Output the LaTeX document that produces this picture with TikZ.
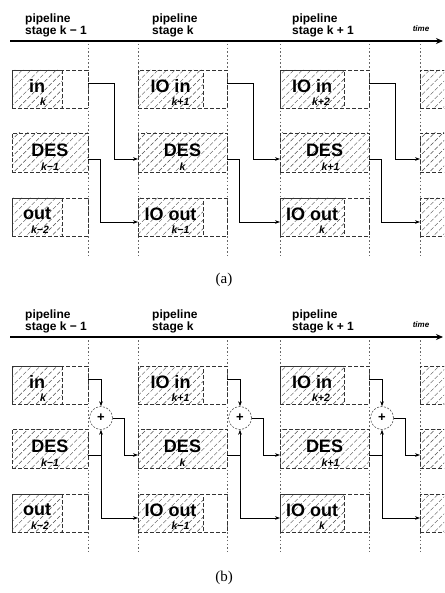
\documentclass[tikz,border=0pt]{standalone}
\usepackage{fontspec}
\setmainfont{Liberation Serif}
\newfontfamily\hsf{Liberation Sans}
\usetikzlibrary{patterns.meta,arrows.meta,calc}
\tikzset{
  slotbox/.style={draw=black!80, line width=0.6pt, dash pattern=on 4pt off 2pt, inner sep=0, outer sep=0, rectangle},
  hatchbox/.style={slotbox, pattern={Lines[angle=45,distance=6pt,line width=0.45pt]}, pattern color=black!70},
  stagel/.style={draw=black!60, line width=0.5pt, dash pattern=on 1.5pt off 2.2pt},
  conn/.style={line width=0.6pt, -{Stealth[length=5pt,width=3.6pt]}},
  lab/.style={font=\hsf\bfseries\fontsize{18}{18}\selectfont, inner sep=0},
  sublab/.style={font=\hsf\bfseries\itshape\fontsize{10.5}{10.5}\selectfont, inner sep=0},
  hdr/.style={font=\hsf\bfseries\fontsize{12}{12}\selectfont, inner sep=0, align=left, anchor=north west},
  timel/.style={font=\hsf\bfseries\itshape\fontsize{8}{8}\selectfont, inner sep=0},
  axisl/.style={line width=1.8pt, -{Stealth[length=7pt,width=6pt]}},
  sumnode/.style={circle, draw=black!80, line width=0.5pt, dash pattern=on 2pt off 1.5pt, minimum size=23pt, inner sep=0, font=\hsf\bfseries\fontsize{13}{13}\selectfont},
  caption/.style={font=\fontsize{15}{15}\selectfont, inner sep=0}
}
% #1 name, #2 xl, #3 xr, #4 hatch width, #5 top, #6 label, #7 sub, #8 sub xshift
\newcommand\ioslot[8]{%
  \node[slotbox, anchor=north west, minimum width={(#3-#2)*1pt}, minimum height=38pt] (#1s) at (#2,#5) {};
  \node[hatchbox, anchor=north west, minimum width={#4*1pt}, minimum height=38pt] (#1) at (#2,#5) {};
  \node[lab] (#1t) at ($(#1.north)+(0,16)$) {#6};
  \node[sublab] (#1k) at ($(#1.north)+(#8,32)$) {#7};
}
% #1 name, #2 xl, #3 xr, #4 top, #5 label, #6 sub, #7 sub xshift
\newcommand\desslot[7]{%
  \node[hatchbox, anchor=north west, minimum width={(#3-#2)*1pt}, minimum height=39pt] (#1) at (#2,#4) {};
  \node[lab] (#1t) at ($(#1.north)+(0,17)$) {#5};
  \node[sublab] (#1k) at ($(#1.north)+(#7,34)$) {#6};
}
\begin{document}
\begin{tikzpicture}[x=1pt,y=-1pt]
\clip (0,0) rectangle (444,593);
\fill[white] (0,0) rectangle (444,593);
\foreach \p/\oy in {a/0,b/296}{
  \node[hdr] (\p-h0) at (25,14+\oy) {pipeline\\stage k − 1};
  \node[hdr] (\p-h1) at (152,14+\oy) {pipeline\\stage k};
  \node[hdr] (\p-h2) at (292,14+\oy) {pipeline\\stage k + 1};
  \node[timel] (\p-t) at (421,29+\oy) {time};
  \coordinate (\p-ax0) at (10,41+\oy);
  \coordinate (\p-ax1) at (443,41+\oy);
  \draw[axisl] (\p-ax0) -- (\p-ax1);
  \foreach \x in {88,138,227,280,369,420}
    \draw[stagel] (\x,44+\oy) -- (\x,258+\oy);
  % column 0
  \ioslot{\p-in0}{12}{88}{50}{70+\oy}{in}{k}{6}
  \desslot{\p-des0}{12}{88}{133+\oy}{DES}{k−1}{0}
  \ioslot{\p-out0}{12}{88}{50}{198+\oy}{out}{k−2}{3}
  % column 1
  \ioslot{\p-in1}{138}{227}{65}{70+\oy}{IO in}{k+1}{10}
  \desslot{\p-des1}{138}{227}{133+\oy}{DES}{k}{0}
  \ioslot{\p-out1}{138}{227}{65}{198+\oy}{IO out}{k−1}{10}
  % column 2
  \ioslot{\p-in2}{280}{369}{64}{70+\oy}{IO in}{k+2}{9}
  \desslot{\p-des2}{280}{369}{133+\oy}{DES}{k+1}{6}
  \ioslot{\p-out2}{280}{369}{64}{198+\oy}{IO out}{k}{10}
  % column 3 (cut off)
  \node[slotbox, anchor=north west, minimum width=60pt, minimum height=38pt] (\p-in3s) at (420,70+\oy) {};
  \node[hatchbox, anchor=north west, minimum width=60pt, minimum height=38pt] (\p-in3) at (420,70+\oy) {};
  \node[hatchbox, anchor=north west, minimum width=60pt, minimum height=39pt] (\p-des3) at (420,133+\oy) {};
  \node[slotbox, anchor=north west, minimum width=60pt, minimum height=38pt] (\p-out3s) at (420,198+\oy) {};
  \node[hatchbox, anchor=north west, minimum width=60pt, minimum height=38pt] (\p-out3) at (420,198+\oy) {};
}
% panel (a) connectors
\foreach \i/\j in {0/1,1/2,2/3}{
  \draw[conn] ($(a-in\i s.north east)+(0,13)$) -- ++(26,0) |- ($(a-des\j.north west)+(0,26)$);
  \draw[conn] ($(a-des\i.north east)+(0,26)$) -- ++(12,0) |- ($(a-out\j.north west)+(0,24)$);
}
% panel (b) connectors
\foreach \i/\j in {0/1,1/2,2/3}{
  \node[sumnode] (b-sum\i) at ($(b-in\i s.south east)+(13,14)$) {+};
  \draw[conn] ($(b-in\i s.north east)+(0,13)$) -| (b-sum\i.north);
  \coordinate (b-d\i) at ($(b-des\i.north east)+(0,26)$);
  \coordinate (b-j\i) at (b-sum\i |- b-d\i);
  \draw[conn] (b-d\i) -- (b-j\i) -- (b-sum\i.south);
  \draw[conn] (b-j\i) |- ($(b-out\j.north west)+(0,24)$);
  \draw[conn] (b-sum\i.east) -- ++(12,0) |- ($(b-des\j.north west)+(0,26)$);
}
\node[caption] (capa) at (224,280) {(a)};
\node[caption] (capb) at (224,578) {(b)};
\end{tikzpicture}
\end{document}
